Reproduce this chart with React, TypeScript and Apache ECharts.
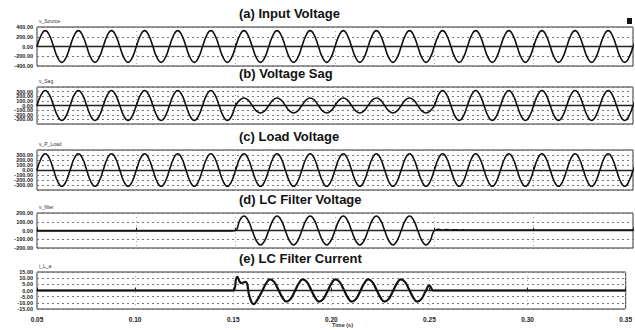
import React, { useEffect, useRef } from "react";
import * as echarts from "echarts";

// ---- time base (s) ----
const T_START = 0.05;
const T_END = 0.35;
const X_INTERVAL = 0.05;
const SAMPLE_STEP = 1 / 480; // samples read every 1/8 cycle of 60 Hz

const xTickLabels = ["0.05", "0.10", "0.15", "0.20", "0.25", "0.30", "0.35"];

const panelTitles = [
  "(a) Input Voltage",
  "(b) Voltage Sag",
  "(c) Load Voltage",
  "(d) LC Filter Voltage",
  "(e) LC Filter Current",
];
const signalNames = ["v_Source", "v_Sag", "v_P_Load", "v_filter", "i_L_a"];

// y ranges [min, max, interval, largest label shown]
const yMins = [-400, -400, -400, -200, -15];
const yMaxs = [400, 400, 400, 200, 15];
const yIntervals = [200, 100, 100, 100, 5];
const yLabelLimits = [400, 300, 300, 200, 15];

// ---- series values ----
const vSource = [
  0, 230, 325, 230, 0, -230, -325, -230, 0, 230, 325, 230, 0, -230, -325, -230,
  0, 230, 325, 230, 0, -230, -325, -230, 0, 230, 325, 230, 0, -230, -325, -230,
  0, 230, 325, 230, 0, -230, -325, -230, 0, 230, 325, 230, 0, -230, -325, -230,
  0, 230, 325, 230, 0, -230, -325, -230, 0, 230, 325, 230, 0, -230, -325, -230,
  0, 230, 325, 230, 0, -230, -325, -230, 0, 230, 325, 230, 0, -230, -325, -230,
  0, 230, 325, 230, 0, -230, -325, -230, 0, 230, 325, 230, 0, -230, -325, -230,
  0, 230, 325, 230, 0, -230, -325, -230, 0, 230, 325, 230, 0, -230, -325, -230,
  0, 230, 325, 230, 0, -230, -325, -230, 0, 230, 325, 230, 0, -230, -325, -230,
  0, 230, 325, 230, 0, -230, -325, -230, 0, 230, 325, 230, 0, -230, -325, -230,
  0,
];

const vSag = [
  0, 230, 325, 230, 0, -230, -325, -230, 0, 230, 325, 230, 0, -230, -325, -230,
  0, 230, 325, 230, 0, -230, -325, -230, 0, 230, 325, 230, 0, -230, -325, -230,
  0, 230, 325, 230, 0, -230, -325, -230, 0, 230, 325, 230, 0, -230, -325, -230,
  0, 115, 162, 115, 0, -115, -162, -115, 0, 115, 162, 115, 0, -115, -162, -115,
  0, 115, 162, 115, 0, -115, -162, -115, 0, 115, 162, 115, 0, -115, -162, -115,
  0, 115, 162, 115, 0, -115, -162, -115, 0, 115, 162, 115, 0, -115, -162, -115,
  0, 230, 325, 230, 0, -230, -325, -230, 0, 230, 325, 230, 0, -230, -325, -230,
  0, 230, 325, 230, 0, -230, -325, -230, 0, 230, 325, 230, 0, -230, -325, -230,
  0, 230, 325, 230, 0, -230, -325, -230, 0, 230, 325, 230, 0, -230, -325, -230,
  0,
];

const vLoad = [
  0, 230, 325, 230, 0, -230, -325, -230, 0, 230, 325, 230, 0, -230, -325, -230,
  0, 230, 325, 230, 0, -230, -325, -230, 0, 230, 325, 230, 0, -230, -325, -230,
  0, 230, 325, 230, 0, -230, -325, -230, 0, 230, 325, 230, 0, -230, -325, -230,
  0, 230, 325, 230, 0, -230, -325, -230, 0, 230, 325, 230, 0, -230, -325, -230,
  0, 230, 325, 230, 0, -230, -325, -230, 0, 230, 325, 230, 0, -230, -325, -230,
  0, 230, 325, 230, 0, -230, -325, -230, 0, 230, 325, 230, 0, -230, -325, -230,
  0, 230, 325, 230, 0, -230, -325, -230, 0, 230, 325, 230, 0, -230, -325, -230,
  0, 230, 325, 230, 0, -230, -325, -230, 0, 230, 325, 230, 0, -230, -325, -230,
  0, 230, 325, 230, 0, -230, -325, -230, 0, 230, 325, 230, 0, -230, -325, -230,
  0,
];

const vFilter = [
  -5, -5, -5, -5, -5, -5, -5, -5, -5, -5, -5, -5, -5, -5, -5, -5,
  -5, -5, -5, -5, -5, -5, -5, -5, -5, -5, -5, -5, -5, -5, -5, -5,
  -5, -5, -5, -5, -5, -5, -5, -5, -5, -5, -5, -5, -5, -5, -5, -5,
  0, 117, 165, 117, 0, -117, -165, -117, 0, 117, 165, 117, 0, -117, -165, -117,
  0, 117, 165, 117, 0, -117, -165, -117, 0, 117, 165, 117, 0, -117, -165, -117,
  0, 117, 165, 117, 0, -117, -165, -117, 0, 117, 165, 117, 0, -117, -165, -117,
  0, 15, 4, 12, 5, 9, 6, 7, 6, 6, 6, 6, 6, 6, 6, 6,
  6, 6, 6, 6, 6, 6, 6, 6, 6, 6, 6, 6, 6, 6, 6, 6,
  6, 6, 6, 6, 6, 6, 6, 6, 6, 6, 6, 6, 6, 6, 6, 6,
  6,
];

const iFilter = [
  0, 0, 0, 0, 0, 0, 0, 0, 0, 0, 0, 0, 0, 0, 0, 0,
  0, 0, 0, 0, 0, 0, 0, 0, 0, 0, 0, 0, 0, 0, 0, 0,
  0, 0, 0, 0, 0, 0, 0, 0, 0, 0, 0, 0, 0, 0, 0, 0,
  0, 11, 6, 7, -5, -11, -7, -1, 5.5, 9, 7, 1, -5.5, -9, -7, -1,
  5.5, 9, 7, 1, -5.5, -9, -7, -1, 5.5, 9, 7, 1, -5.5, -9, -7, -1,
  5.5, 9, 7, 1, -5.5, -9, -7, -1, 5.5, 9, 7, 1, -5.5, -9, -7, -1,
  4, 0, 0, 0, 0, 0, 0, 0, 0, 0, 0, 0, 0, 0, 0, 0,
  0, 0, 0, 0, 0, 0, 0, 0, 0, 0, 0, 0, 0, 0, 0, 0,
  0, 0, 0, 0, 0, 0, 0, 0, 0, 0, 0, 0, 0, 0, 0, 0,
  0,
];

const seriesValues = [vSource, vSag, vLoad, vFilter, iFilter];

// layout
const GRID_LEFT = 37;
const GRID_RIGHT = 2;
const gridTops = [27, 87, 150, 213, 272];
const gridHeights = [39, 37, 40, 35, 37];
const lineWidths = [1.6, 1.6, 1.6, 1.6, 2.2];

export default function App() {
  const ref = useRef<HTMLDivElement>(null);

  useEffect(() => {
    if (!ref.current) return;
    const chart = echarts.init(ref.current, undefined, { renderer: "svg" });

    const grids = gridTops.map((top, i) => ({
      left: GRID_LEFT,
      right: GRID_RIGHT,
      top,
      height: gridHeights[i],
      show: true,
      borderColor: "#333",
      borderWidth: 1,
      backgroundColor: "#fff",
    }));

    const xAxes = gridTops.map((_, i) => ({
      type: "value",
      gridIndex: i,
      min: T_START,
      max: T_END,
      interval: X_INTERVAL,
      axisLine: { show: true, lineStyle: { color: "#222", width: 1.4 } },
      axisTick: {
        show: true,
        inside: true,
        length: 3,
        lineStyle: { color: "#222", width: 1 },
      },
      splitLine: {
        show: true,
        lineStyle: { color: "#aaa", type: [1, 3], width: 1 },
      },
      axisLabel: {
        show: i === gridTops.length - 1,
        fontSize: 6.5,
        fontWeight: "bold",
        color: "#222",
        fontFamily: "Liberation Sans",
        margin: 7,
        formatter: (v: number) =>
          xTickLabels[Math.round((v - T_START) / X_INTERVAL)] ?? "",
      },
    }));

    const yAxes = gridTops.map((_, i) => ({
      type: "value",
      gridIndex: i,
      min: yMins[i],
      max: yMaxs[i],
      interval: yIntervals[i],
      axisLine: { show: false },
      axisTick: { show: false },
      splitLine: {
        show: true,
        lineStyle: { color: "#777", type: [2, 3], width: 1 },
      },
      axisLabel: {
        fontSize: 5.5,
        fontWeight: "bold",
        color: "#222",
        fontFamily: "Liberation Sans",
        margin: 4,
        formatter: (v: number) =>
          Math.abs(v) > yLabelLimits[i] ? "" : v.toFixed(2),
      },
    }));

    const series = seriesValues.map((vals, i) => ({
      type: "line",
      xAxisIndex: i,
      yAxisIndex: i,
      data: vals.map((v, k) => [T_START + k * SAMPLE_STEP, v]),
      showSymbol: false,
      symbol: "none",
      smooth: 0.5,
      lineStyle: { color: "#111", width: lineWidths[i] },
      z: 5,
    }));

    const graphic: any[] = [];
    panelTitles.forEach((t, i) => {
      graphic.push({
        type: "text",
        left: 239,
        top: gridTops[i] - 20,
        style: {
          text: t,
          fontSize: 13,
          fontWeight: "bold",
          fontFamily: "Liberation Sans",
          fill: "#111",
        },
      });
      graphic.push({
        type: "text",
        left: 39,
        top: gridTops[i] - 9,
        style: {
          text: signalNames[i],
          fontSize: 5,
          fontFamily: "Liberation Sans",
          fill: "#333",
        },
      });
    });
    graphic.push({
      type: "text",
      left: 332,
      top: 322,
      style: {
        text: "Time (s)",
        fontSize: 5.5,
        fontWeight: "bold",
        fontFamily: "Liberation Sans",
        fill: "#333",
      },
    });
    graphic.push({
      type: "rect",
      shape: { x: 627, y: 18, width: 5, height: 6 },
      style: { fill: "#111" },
    });

    chart.setOption({
      animation: false,
      backgroundColor: "#fff",
      grid: grids,
      xAxis: xAxes,
      yAxis: yAxes,
      series,
      graphic,
    });

    return () => chart.dispose();
  }, []);

  return (
    <div
      ref={ref}
      style={{ position: "fixed", left: 0, top: 0, width: 635, height: 330 }}
    />
  );
}
